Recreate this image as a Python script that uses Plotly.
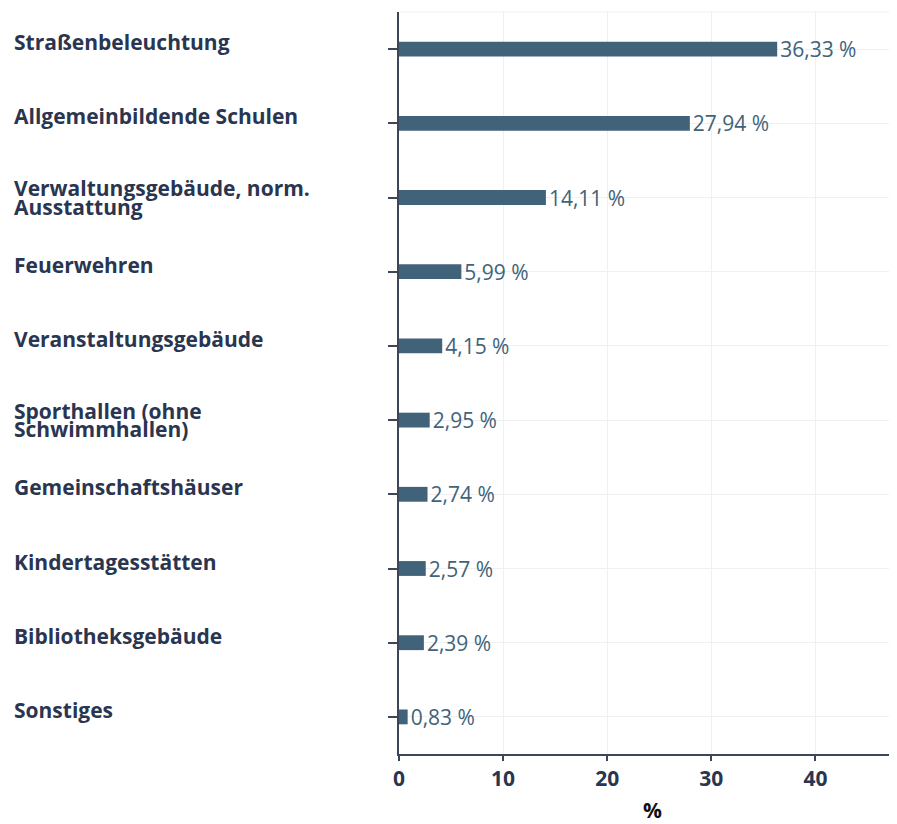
import plotly.graph_objects as go

categories = [
    "Straßenbeleuchtung",
    "Allgemeinbildende Schulen",
    "Verwaltungsgebäude, norm.\nAusstattung",
    "Feuerwehren",
    "Veranstaltungsgebäude",
    "Sporthallen (ohne\nSchwimmhallen)",
    "Gemeinschaftshäuser",
    "Kindertagesstätten",
    "Bibliotheksgebäude",
    "Sonstiges",
]
values = [36.33, 27.94, 14.11, 5.99, 4.15, 2.95, 2.74, 2.57, 2.39, 0.83]
x_ticks = [0, 10, 20, 30, 40]
x_title = "%"

BAR = "#41637a"
NAVY = "#2a3550"
AXIS = "#3b4658"
GRID = "#f0f0f0"
FS = 21

keys = [c.replace("\n", " ") for c in categories]

fig = go.Figure()
fig.add_trace(go.Bar(
    x=values, y=keys, orientation="h",
    marker=dict(color=BAR, line=dict(width=0)),
    width=0.2,
    texttemplate="%{x:.2f} %",
    textposition="outside",
    constraintext="none",
    cliponaxis=False,
    textfont=dict(family="Open Sans", size=FS, color=BAR),
    hoverinfo="skip",
))

# category labels, left aligned, with tight line spacing
LINE = 18.5
annotations = []
for key, label in zip(keys, categories):
    lines = label.split("\n")
    n = len(lines)
    for i, ln in enumerate(lines):
        if n == 1:
            base = 1.0
        else:
            base = -1.5 + i * LINE
        annotations.append(dict(
            text=ln, x=0, xref="paper", y=key, yref="y",
            xanchor="left", yanchor="middle", xshift=-387,
            yshift=8 - base, showarrow=False, align="left",
            font=dict(family="Open Sans", size=FS, color=NAVY, weight="bold"),
        ))

# x axis title
annotations.append(dict(
    text=x_title, x=0.5, xref="paper", y=0, yref="paper",
    xanchor="center", yanchor="middle", xshift=8, yshift=-56,
    showarrow=False,
    font=dict(family="Open Sans", size=FS, color="#111111", weight="bold"),
))

fig.update_layout(
    width=881, height=816,
    margin=dict(l=391, r=0, t=4, b=70, autoexpand=False),
    plot_bgcolor="white", paper_bgcolor="white",
    separators=",.",
    showlegend=False,
    annotations=annotations,
    shapes=[dict(type="line", xref="paper", yref="paper", x0=0, x1=1, y0=1, y1=1,
                 line=dict(color=GRID, width=1), layer="below")],
    xaxis=dict(
        range=[0, 47.07], tickvals=x_ticks, ticktext=[str(t) for t in x_ticks],
        showgrid=True, gridcolor=GRID, gridwidth=1, zeroline=False,
        showline=True, linecolor=AXIS, linewidth=2,
        ticks="outside", ticklen=5, tickcolor=AXIS, tickwidth=1.5,
        tickfont=dict(family="Open Sans", size=FS, color=NAVY, weight="bold"),
        automargin=False,
        fixedrange=True,
    ),
    yaxis=dict(
        categoryorder="array", categoryarray=keys, autorange="reversed",
        showticklabels=False, showgrid=True, gridcolor=GRID, gridwidth=1,
        zeroline=False, showline=True, linecolor=AXIS, linewidth=2,
        ticks="outside", ticklen=9, tickcolor=AXIS, tickwidth=1.5,
        automargin=False,
        fixedrange=True,
    ),
)

fig.write_html("out.html")
